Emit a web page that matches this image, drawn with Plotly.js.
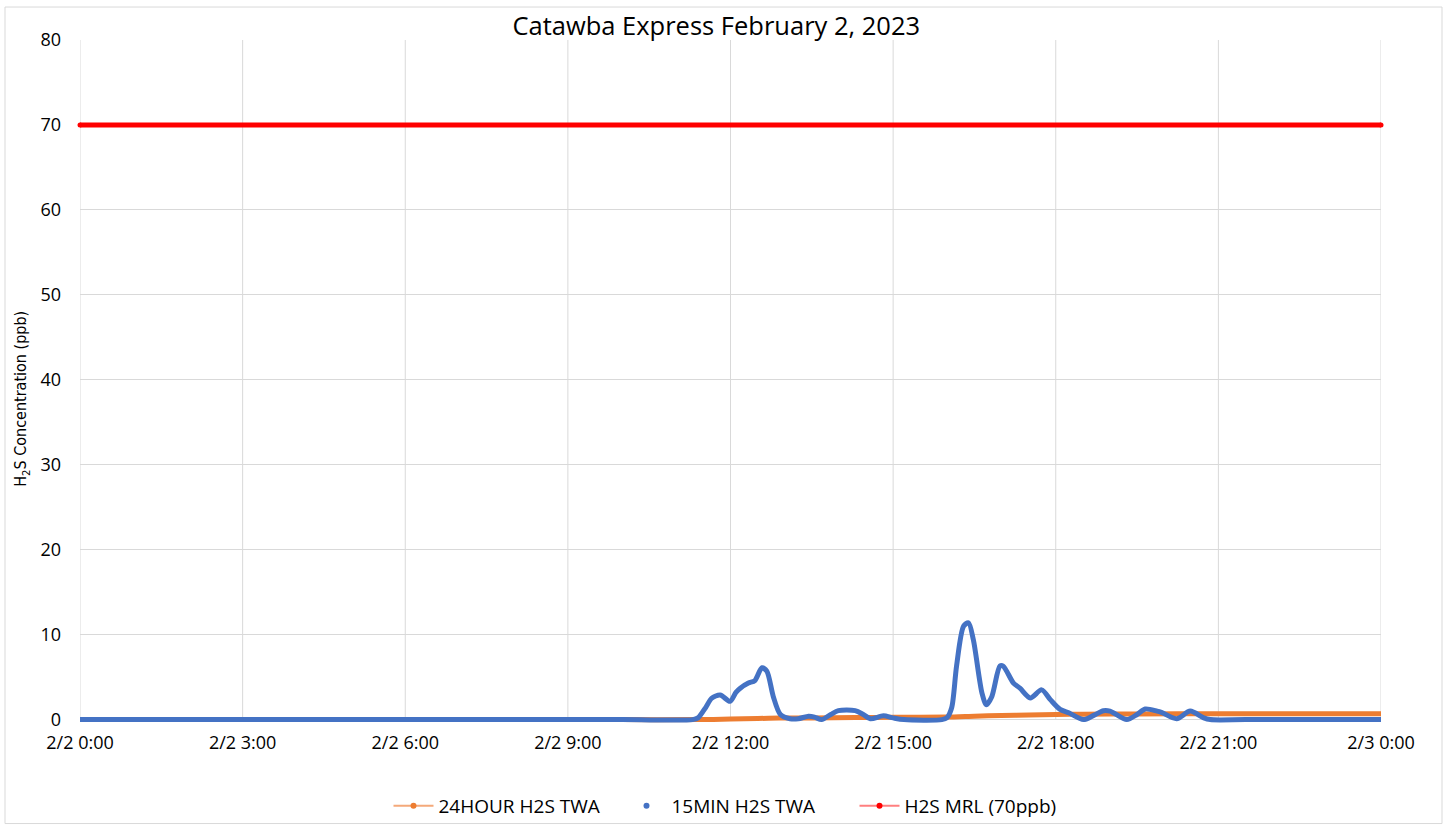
<!DOCTYPE html>
<html>
<head>
<meta charset="utf-8">
<script src="https://cdn.plot.ly/plotly-3.0.1.min.js"></script>
<style>html,body{margin:0;padding:0;background:#fff;}#chart{width:1447px;height:825px;}</style>
</head>
<body>
<div id="chart"></div>
<script>
// Time in hours since 2/2 0:00
const tickHours = [0, 3, 6, 9, 12, 15, 18, 21, 24];
const tickLabels = ["2/2 0:00", "2/2 3:00", "2/2 6:00", "2/2 9:00", "2/2 12:00", "2/2 15:00", "2/2 18:00", "2/2 21:00", "2/3 0:00"];
const yTicks = [0, 10, 20, 30, 40, 50, 60, 70, 80];

// 15-minute H2S TWA (ppb)
const min15Hours = [0, 5, 10, 11.3, 11.4, 11.55, 11.65, 11.81, 11.99, 12.1, 12.18, 12.33, 12.45, 12.58, 12.67, 12.79, 12.92, 13.1, 13.25, 13.44, 13.55, 13.68, 13.85, 13.99, 14.3, 14.45, 14.58, 14.82, 15.0, 15.2, 15.9, 15.99, 16.08, 16.17, 16.3, 16.39, 16.48, 16.64, 16.72, 16.82, 16.97, 17.03, 17.22, 17.34, 17.53, 17.74, 17.9, 18.08, 18.24, 18.51, 18.7, 18.88, 19.0, 19.31, 19.5, 19.65, 19.87, 19.95, 20.23, 20.48, 20.73, 20.85, 21.5, 23, 24];
const min15Vals  = [0, 0, 0, 0, 0.2, 1.5, 2.5, 2.9, 2.15, 3.2, 3.7, 4.3, 4.6, 6.1, 5.7, 2.7, 0.6, 0.1, 0.1, 0.4, 0.3, 0, 0.6, 1.05, 1.05, 0.6, 0.1, 0.45, 0.2, 0, 0, 0.2, 1.4, 6.3, 11.0, 11.4, 9.4, 3.1, 1.75, 2.7, 6.3, 6.3, 4.3, 3.7, 2.55, 3.5, 2.35, 1.2, 0.8, 0, 0.5, 1.05, 1.0, 0, 0.6, 1.25, 1.0, 0.85, 0.1, 1.0, 0.2, 0, 0, 0, 0];

// 24-hour H2S TWA (ppb)
const hr24Hours = [0, 5, 10, 11.4, 12.0, 12.5, 12.9, 13.5, 14.3, 15.0, 16.0, 16.5, 17.0, 17.5, 18.0, 18.5, 19.5, 21.0, 24];
const hr24Vals  = [0, 0, 0, 0, 0.06, 0.13, 0.18, 0.2, 0.24, 0.27, 0.3, 0.4, 0.48, 0.55, 0.6, 0.64, 0.67, 0.69, 0.69];

// H2S MRL (ppb)
const mrlHours = [0, 24];
const mrlVals = [70, 70];

const FONT = "'Open Sans', sans-serif";
const GRID = "#D9D9D9";

// geometry helpers (pixels -> paper)
const PT = 40, PB = 723.4, PL = 80, PR = 1381;
const py = p => (PB - p) / (PB - PT);
const px = p => (p - PL) / (PR - PL);

const traces = [
  {x: hr24Hours, y: hr24Vals, mode: "lines", line: {color: "#ED7D31", width: 5, shape: "spline", smoothing: 0.6}, showlegend: false, hoverinfo: "skip", cliponaxis: false},
  {x: min15Hours, y: min15Vals, mode: "lines", line: {color: "#4472C4", width: 5, shape: "spline", smoothing: 0.8}, showlegend: false, hoverinfo: "skip", cliponaxis: false},
  {x: mrlHours, y: mrlVals, mode: "lines+markers", line: {color: "#FF0000", width: 5}, marker: {color: "#FF0000", size: 5}, showlegend: false, hoverinfo: "skip", cliponaxis: false},
  // legend entries
  {x: [null], y: [null], name: "24HOUR H2S TWA", mode: "lines+markers", line: {color: "#F4A97A", width: 2}, marker: {color: "#ED7D31", size: 6}},
  {x: [null], y: [null], name: "15MIN H2S TWA", mode: "markers", marker: {color: "#4472C4", size: 6}},
  {x: [null], y: [null], name: "H2S MRL (70ppb)", mode: "lines+markers", line: {color: "#FF7F7F", width: 2}, marker: {color: "#FF0000", size: 6}}
];

const shapes = [
  {type: "rect", xref: "paper", yref: "paper", x0: px(5), x1: px(1442), y0: py(824), y1: py(7), line: {color: GRID, width: 1}, layer: "below"}
];
tickHours.forEach(h => shapes.push({type: "line", xref: "x", yref: "y", x0: h, x1: h, y0: 0, y1: 80, line: {color: GRID, width: 1}, layer: "below"}));

const layout = {
  width: 1447, height: 825,
  margin: {l: PL, r: 1447 - PR, t: PT, b: 825 - PB},
  paper_bgcolor: "#fff", plot_bgcolor: "#fff",
  font: {family: FONT, size: 18, color: "#000"},
  title: {text: "Catawba Express February 2, 2023", font: {family: FONT, size: 25.5, color: "#000"}, x: px(724), xanchor: "center", y: 1 - 26 / 825, yanchor: "middle"},
  xaxis: {
    range: [0, 24], tickmode: "array", tickvals: tickHours, ticktext: tickLabels,
    showgrid: false, zeroline: false, showline: false, ticks: "", ticklabelstandoff: 7,
    tickfont: {family: FONT, size: 18, color: "#000"}, fixedrange: true
  },
  yaxis: {
    range: [-0.4, 80], tickmode: "array", tickvals: yTicks,
    showgrid: true, gridcolor: GRID, gridwidth: 1,
    zeroline: true, zerolinecolor: GRID, zerolinewidth: 1, showline: false, ticks: "", ticklabelstandoff: 18,
    tickfont: {family: FONT, size: 18, color: "#000"},
    fixedrange: true
  },
  annotations: [
    {text: "H<sub>2</sub>S Concentration (ppb)", xref: "paper", yref: "paper", x: px(22), y: py(399), xanchor: "center", yanchor: "middle", textangle: -90, showarrow: false,
     font: {family: "'Liberation Sans Narrow', 'DejaVu Sans Condensed', sans-serif", size: 16, color: "#000"}}
  ],
  legend: {orientation: "h", xref: "container", yref: "container", x: 738 / 1447, xanchor: "center", y: 1 - 806 / 825, yanchor: "middle",
           bgcolor: "rgba(0,0,0,0)", font: {family: FONT, size: 19, color: "#000"}, itemwidth: 40, entrywidthmode: "pixels", entrywidth: 178},
  shapes: shapes
};

Plotly.newPlot("chart", traces, layout, {staticPlot: true, displayModeBar: false});
</script>
</body>
</html>
